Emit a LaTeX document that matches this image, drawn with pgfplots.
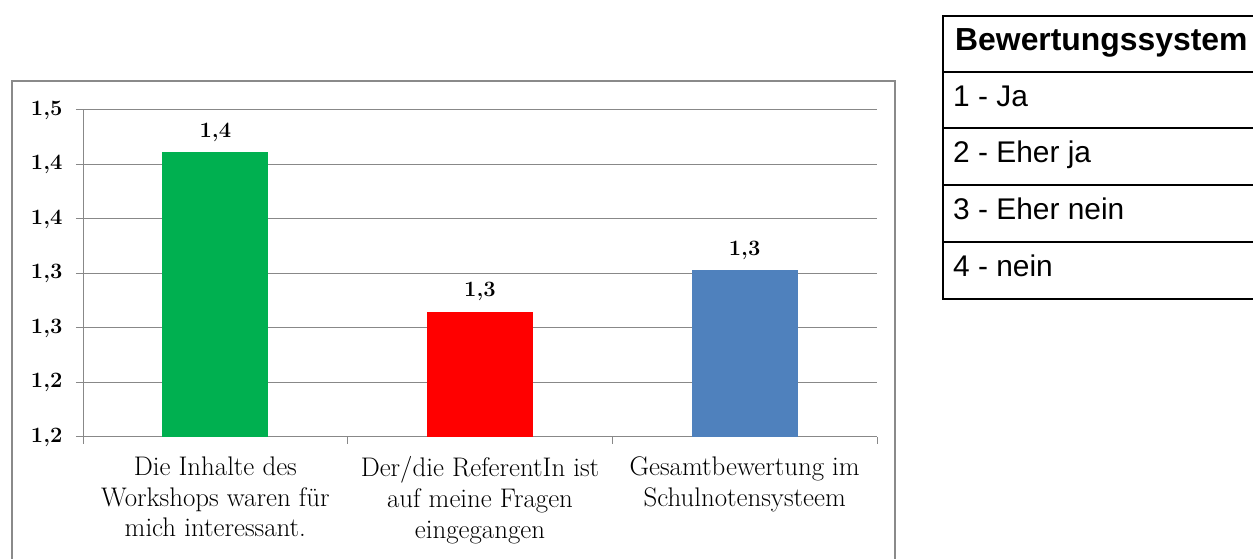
\documentclass[border=0pt]{standalone}
\usepackage{pgfplots}
\pgfplotsset{compat=1.18}
\usepackage{fontspec}
\newfontfamily\arial{Liberation Sans}
\definecolor{cgreen}{HTML}{00B050}
\definecolor{cred}{HTML}{FF0000}
\definecolor{cblue}{HTML}{4F81BD}
\definecolor{axisgray}{HTML}{888888}
\definecolor{framegray}{HTML}{8A8A8A}
\begin{document}
\begin{tikzpicture}[x=1bp,y=1bp]
\useasboundingbox (0,0) rectangle (1253,559);
\clip (0,0) rectangle (1253,559);
\draw[framegray, line width=2bp] (12,478) rectangle (895,-20);
\begin{axis}[
  at={(83bp,122bp)}, anchor=south west,
  scale only axis, width=794bp, height=327bp,
  xmin=-0.5, xmax=2.5, ymin=1.2, ymax=1.5,
  axis x line*=bottom, axis y line*=left,
  axis line style={axisgray, line width=1bp},
  tick align=outside, major tick length=7bp,
  tick style={axisgray, line width=1bp},
  ytick={1.2,1.25,1.3,1.35,1.4,1.45,1.5},
  yticklabels={{1,2},{1,2},{1,3},{1,3},{1,4},{1,4},{1,5}},
  yticklabel style={font=\bfseries\fontsize{22}{26}\selectfont, xshift=-10bp},
  ymajorgrids, grid style={axisgray, line width=1bp},
  xtick={-0.5,0.5,1.5,2.5}, xticklabels={},
  extra x ticks={0,1,2},
  extra x tick labels={{Die Inhalte des\\Workshops waren für\\mich interessant.},{Der/die ReferentIn ist\\auf meine Fragen\\eingegangen},{Gesamtbewertung im\\Schulnotensysteem}},
  extra x tick style={major tick length=0pt, grid=none},
  xticklabel style={align=center, font=\fontsize{27}{31}\selectfont, yshift=-16bp},
  every node near coord/.append style={font=\bfseries\fontsize{22}{26}\selectfont, yshift=7bp},
]
\addplot[ybar, bar width=106bp, bar shift=0pt, fill=cgreen, draw=none, nodes near coords={1,4}] coordinates {(0,1.461)};
\addplot[ybar, bar width=106bp, bar shift=0pt, fill=cred, draw=none, nodes near coords={1,3}] coordinates {(1,1.315)};
\addplot[ybar, bar width=106bp, bar shift=0pt, fill=cblue, draw=none, nodes near coords={1,3}] coordinates {(2,1.353)};
\end{axis}
% legend table
\draw[line width=2bp] (943,543) rectangle (1265,260);
\foreach \y in {487,431,374,317} \draw[line width=2bp] (943,\y) -- (1265,\y);
\node[anchor=base west, inner sep=0, font=\arial\bfseries\fontsize{32}{38}\selectfont] at (955,508) {Bewertungssystem};
\node[anchor=base west, inner sep=0, font=\arial\fontsize{30}{36}\selectfont] at (953,452) {1 - Ja};
\node[anchor=base west, inner sep=0, font=\arial\fontsize{30}{36}\selectfont] at (953,396) {2 - Eher ja};
\node[anchor=base west, inner sep=0, font=\arial\fontsize{30}{36}\selectfont] at (953,339) {3 - Eher nein};
\node[anchor=base west, inner sep=0, font=\arial\fontsize{30}{36}\selectfont] at (953,282) {4 - nein};
\end{tikzpicture}
\end{document}
